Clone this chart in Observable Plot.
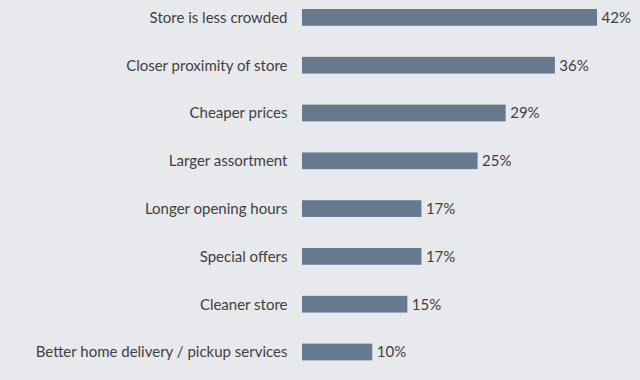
<!DOCTYPE html>
<html><head><meta charset="utf-8">
<script src="https://cdn.jsdelivr.net/npm/d3@7"></script>
<script src="https://cdn.jsdelivr.net/npm/@observablehq/plot@0.6"></script>
<style>
html,body{margin:0;padding:0;background:#e8e9ed;}
#chart svg{display:block;}
</style></head>
<body><div id="chart"></div>
<script>
const categories = ["Store is less crowded","Closer proximity of store","Cheaper prices","Larger assortment","Longer opening hours","Special offers","Cleaner store","Better home delivery / pickup services"];
const values = [42,36,29,25,17,17,15,10];
const data = categories.map((c,i)=>({category:c, value:values[i]}));
const chart = Plot.plot({
  width:640, height:380,
  marginLeft:302, marginRight:43, marginTop:0, marginBottom:0,
  style:{background:"#e8e9ed", fontFamily:"Lato, 'Open Sans', sans-serif", fontSize:"15px", color:"#404040"},
  x:{domain:[0,42], axis:null},
  y:{domain:categories, range:[-6.5,375.9], paddingInner:0.65, paddingOuter:0.325, round:false, label:null},
  marks:[
    Plot.axisY({tickSize:0, tickPadding:15, fontSize:15, fill:"#404040", label:null}),
    Plot.ruleX([0], {stroke:"#d3d6db", y1:null}),
    Plot.barX(data, {y:"category", x:"value", fill:"#67798f"}),
    Plot.text(data, {y:"category", x:"value", text:d=>d.value+"%", textAnchor:"start", dx:4, fontSize:15, fill:"#404040"})
  ]
});
document.getElementById("chart").appendChild(chart);
</script></body></html>
